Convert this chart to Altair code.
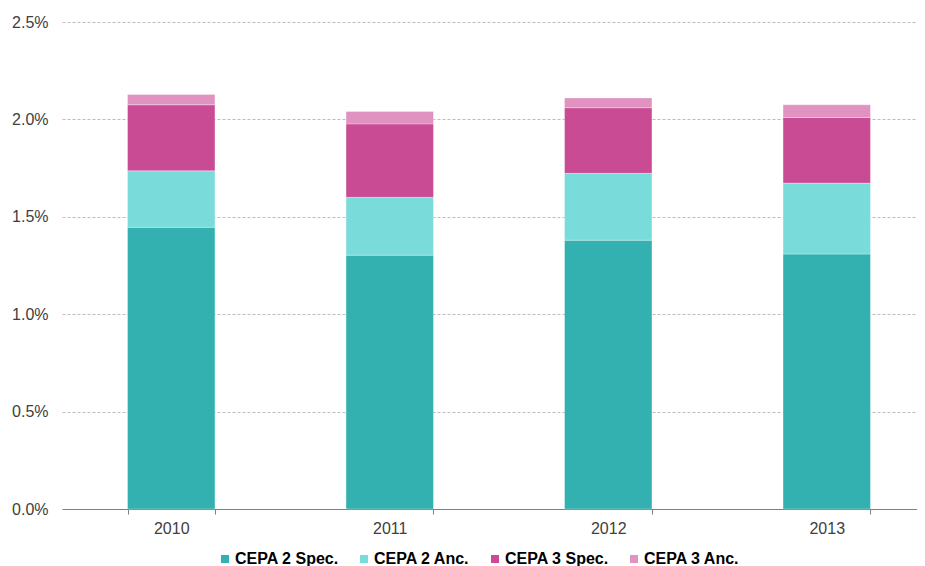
import altair as alt
import pandas as pd

years = ["2010", "2011", "2012", "2013"]
series = ["CEPA 2 Spec.", "CEPA 2 Anc.", "CEPA 3 Spec.", "CEPA 3 Anc."]
colors = ["#33B0B0", "#7ADCDA", "#C84B93", "#E092C0"]

# percent values per series (segment heights)
cepa2_spec = [1.446, 1.303, 1.380, 1.309]
cepa2_anc = [0.290, 0.297, 0.343, 0.364]
cepa3_spec = [0.339, 0.377, 0.337, 0.337]
cepa3_anc = [0.053, 0.064, 0.050, 0.065]

values = [cepa2_spec, cepa2_anc, cepa3_spec, cepa3_anc]
rows = []
for si, s in enumerate(series):
    for yi, y in enumerate(years):
        rows.append({"year": y, "series": s, "order": si, "value": values[si][yi] / 100.0})
df = pd.DataFrame(rows)

chart = (
    alt.Chart(df)
    .mark_bar(stroke="white", strokeWidth=0.6, strokeOpacity=0.5)
    .encode(
        x=alt.X(
            "year:N",
            title=None,
            sort=years,
            scale=alt.Scale(paddingInner=0.6, paddingOuter=0.3, range=[0, 874]),
            axis=alt.Axis(
                labelAngle=0,
                tickBand="extent",
                tickSize=5,
                tickColor="#7f7f7f",
                domainColor="#7f7f7f",
                labelPadding=6,
                labelFont="Liberation Sans",
                labelFontSize=16,
                labelColor="#404040",
                grid=False,
            ),
        ),
        y=alt.Y(
            "value:Q",
            title=None,
            stack="zero",
            scale=alt.Scale(domain=[0, 0.025], nice=False),
            axis=alt.Axis(
                format=".1%",
                values=[0, 0.005, 0.01, 0.015, 0.02, 0.025],
                domain=False,
                ticks=False,
                labelPadding=14,
                labelFont="Liberation Sans",
                labelFontSize=16,
                labelColor="#404040",
                grid=True,
                gridColor="#bdbdbd",
                gridDash=[3, 2],
                gridWidth=1,
            ),
        ),
        color=alt.Color(
            "series:N",
            sort=series,
            scale=alt.Scale(domain=series, range=colors),
            legend=alt.Legend(
                title=None,
                orient="none",
                direction="horizontal",
                legendX=155,
                legendY=529,
                padding=0,
                symbolType="square",
                symbolSize=64,
                symbolStrokeWidth=0,
                symbolOpacity=1,
                labelOffset=2,
                columnPadding=17,
                labelFont="Liberation Sans",
                labelFontSize=16,
                labelFontWeight="bold",
                labelColor="#000000",
                labelLimit=300,
            ),
        ),
        order=alt.Order("order:Q", sort="ascending"),
    )
    .properties(
        width=855,
        height=487,
        autosize=alt.AutoSizeParams(type="none"),
        padding={"left": 54, "top": 14, "right": 0, "bottom": 60},
    )
    .configure_view(stroke=None)
)

chart.save("out.html", embed_options={"renderer": "svg", "actions": False})
